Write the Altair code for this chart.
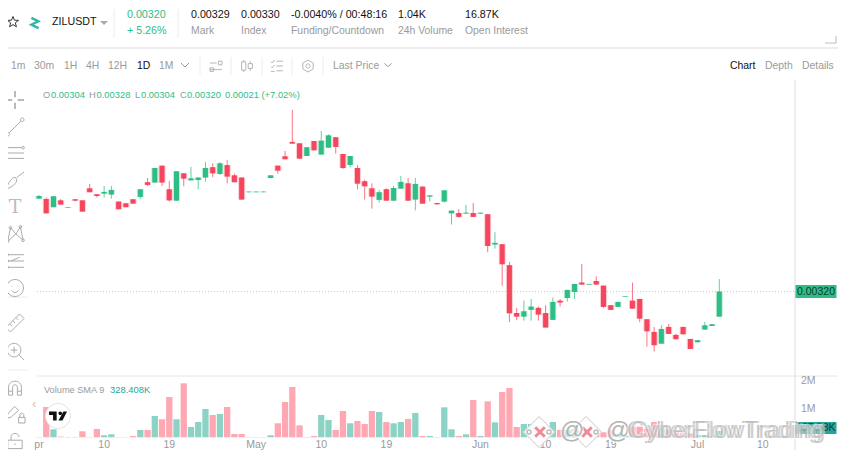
import altair as alt
import pandas as pd

# Prices in units of 0.00001, one entry per daily candle
opens = [379.5,379.3,374.0,378.4,373.6,379.1,378.4,386.1,382.3,382.7,382.1,377.6,376.5,379.1,380.6,390.0,389.8,400.6,385.5,378.2,
         395.7,391.2,391.4,393.0,399.6,395.3,401.0,394.4,393.0,383.6,383.6,383.6,392.7,400.6,406.6,415.8,414.9,406.8,416.4,407.7,
         412.1,418.8,408.1,401.0,399.1,390.6,386.1,378.7,385.5,378.2,385.9,389.3,378.9,387.2,380.8,376.7,377.6,370.1,370.3,369.9,
         370.3,369.9,369.5,350.1,350.3,336.9,306.3,304.0,308.3,309.6,306.3,301.9,314.2,315.9,319.8,325.8,324.5,326.8,323.8,311.3,
         310.2,316.8,314.2,315.3,302.3,294.2,286.7,297.4,292.3,297.4,289.7,287.6,295.7,298.0,304.0]
highs = [381.9,380.2,381.0,379.3,374.0,379.1,378.4,388.9,382.3,387.6,387.6,377.6,376.5,379.1,385.5,392.7,399.1,400.6,390.8,397.0,
         395.7,399.8,393.0,403.0,402.1,402.8,404.2,395.5,393.0,384.0,384.0,384.0,394.4,400.6,410.0,436.3,414.9,412.4,416.4,422.8,
         420.7,418.8,408.1,406.8,401.0,391.7,389.3,385.1,386.1,387.6,394.0,392.7,392.7,387.2,381.6,376.7,384.8,371.8,372.9,375.5,
         376.7,370.5,369.5,358.0,350.3,339.0,309.5,314.2,315.3,310.4,311.3,316.2,315.3,321.1,324.9,337.7,324.9,329.8,323.8,311.3,
         313.4,317.2,325.8,315.3,302.3,297.4,298.5,299.3,292.9,297.4,289.7,288.9,300.6,299.1,328.0]
lows = [379.5,370.1,374.0,375.7,373.6,377.8,371.2,383.6,380.2,380.2,379.5,372.7,374.0,376.3,379.3,387.6,389.8,387.6,377.6,378.2,
        387.4,391.2,385.5,390.4,393.2,394.6,389.3,390.0,378.9,383.6,383.6,383.6,392.7,395.5,404.7,414.7,405.1,406.8,410.4,407.7,
        412.1,408.3,398.5,399.6,385.5,378.9,373.1,377.0,378.2,378.2,385.9,378.2,372.0,376.3,377.8,375.7,377.0,362.9,367.3,369.9,
        367.8,369.9,345.2,347.5,323.8,300.4,301.7,301.4,301.4,301.4,297.0,301.9,310.4,313.6,315.3,324.5,324.5,324.5,309.5,308.3,
        310.2,316.8,309.1,300.4,284.8,281.6,286.7,292.9,289.5,292.7,283.3,287.6,295.7,298.0,304.0]
closes = [381.2,370.1,381.0,375.7,374.0,378.2,371.2,383.6,381.2,383.8,385.1,372.7,374.0,376.3,385.5,388.3,399.1,389.8,378.4,397.0,
          392.3,392.5,393.0,399.1,395.7,402.1,393.6,390.0,378.9,384.0,384.0,384.0,394.4,397.4,404.7,414.7,405.1,412.4,410.4,416.6,
          420.0,412.6,399.1,406.8,389.1,387.4,380.8,383.6,378.2,386.3,390.2,378.2,388.9,376.3,381.6,375.9,384.8,371.8,367.8,370.5,
          367.8,370.5,349.2,351.2,337.5,306.1,304.0,307.4,310.4,305.3,297.0,313.4,313.0,321.1,324.9,324.5,324.9,324.5,310.2,308.3,
          313.4,317.2,309.1,302.7,294.6,285.7,296.1,292.9,289.5,292.7,283.3,288.9,298.4,299.1,320.0]
# Volume in thousands
volumes = [12,1083,286,24,12,12,214,12,298,71,107,12,12,48,262,262,762,643,1440,643,
           1928,369,547,1012,797,833,1083,119,119,12,12,12,71,500,1261,1797,428,12,48,797,
           619,262,940,500,583,476,940,904,547,500,547,655,869,48,48,12,1071,286,48,107,
           1333,48,1285,535,1618,1761,369,476,476,440,380,547,262,262,180,262,48,262,180,262,
           107,60,380,380,300,547,320,262,180,180,140,80,80,48,230]

x_ticks = ["pr", "10", "19", "May", "10", "19", "Jun", "10", "19", "Jul", "10"]
x_tick_days = [0, 9, 18, 30, 39, 48, 61, 70, 79, 91, 100]
vol_ticks = ["2M", "1M"]
vol_tick_values = [2000, 1000]

GREEN, RED = "#2ebd85", "#f6465d"
VGREEN, VRED = "#8dd3c5", "#fda8b2"
GRAY, DARK = "#9a9a9a", "#111111"
FONT = "Liberation Sans"
TOP, SUB, SMALL = 10.7, 10.4, 9.4

df = pd.DataFrame({"i": list(range(len(opens))), "o": opens, "h": highs, "l": lows, "c": closes, "v": volumes})
xs = alt.Scale(domain=[0, 94], range=[31, 711.3], padding=0)
ys = alt.Scale(domain=[280, 440], range=[346.1, 96.1])
vs = alt.Scale(domain=[0, 2000], range=[429.3, 373.3])
X = alt.X("i:Q", scale=xs, axis=None)
Y = lambda f: alt.Y(f + ":Q", scale=ys, axis=None)
col = alt.condition("datum.c >= datum.o", alt.value(GREEN), alt.value(RED))
vcol = alt.condition("datum.c >= datum.o", alt.value(VGREEN), alt.value(VRED))

one = alt.Data(values=[{"a": 1}])


def txt(s, x, y, color=GRAY, size=SUB, align="left", weight="normal", font=FONT, **kw):
    return alt.Chart(one).mark_text(align=align, baseline="middle", fontSize=size, font=font, fontWeight=weight, **kw).encode(
        x=alt.value(x - 8), y=alt.value(y - 8), text=alt.value(s), color=alt.value(color))


def line(x1, y1, x2, y2, color="#ececec", w=1):
    return alt.Chart(one).mark_rule(strokeWidth=w).encode(
        x=alt.value(x1 - 8), x2=alt.value(x2 - 8), y=alt.value(y1 - 8), y2=alt.value(y2 - 8), color=alt.value(color))


def icon(path, x, y, half, color="#ababab", w=1.0, filled=False, opacity=1.0, fill=None):
    kw = dict(shape=path, size=(2 * half) ** 2, strokeWidth=w, opacity=opacity)
    if filled:
        m = alt.Chart(one).mark_point(filled=True, **kw).encode(x=alt.value(x - 8), y=alt.value(y - 8), color=alt.value(color))
    elif fill:
        m = alt.Chart(one).mark_point(filled=False, fill=fill, fillOpacity=1, **kw).encode(x=alt.value(x - 8), y=alt.value(y - 8), color=alt.value(color))
    else:
        m = alt.Chart(one).mark_point(filled=False, **kw).encode(x=alt.value(x - 8), y=alt.value(y - 8), color=alt.value(color))
    return m


def circ(x, y, r):
    return f"M{x-r},{y}a{r},{r} 0 1,0 {2*r},0a{r},{r} 0 1,0 {-2*r},0"


STAR = "M0,-1L0.27,-0.33L1,-0.3L0.43,0.15L0.62,0.87L0,0.47L-0.62,0.87L-0.43,0.15L-1,-0.3L-0.27,-0.33Z"
layers = []

# ---- frame lines
layers += [
    line(0, 48, 846, 48, "#eeeeee", 2),
    line(114, 9, 114, 38), line(178, 9, 178, 38),
    line(795, 80, 795, 450, "#dedede"),
    line(37, 376, 846, 376, "#e6e6e6"),
    line(3, 297, 28, 297), line(3, 370, 28, 370),
    line(200, 57, 200, 75), line(231, 57, 231, 75), line(262, 57, 262, 75), line(292, 57, 292, 75), line(323, 57, 323, 75),
    line(825, 43, 836, 43, "#bdbdbd"), line(836, 36, 836, 43, "#bdbdbd"),
]

# ---- price line
layers.append(alt.Chart(alt.Data(values=[{"p": 320}])).mark_rule(strokeDash=[1, 2], strokeWidth=1, color="#9fdcc6").encode(
    x=alt.value(29), x2=alt.value(787), y=Y("p")))

# ---- candles
base = alt.Chart(df)
layers += [
    base.mark_rule(strokeWidth=1, opacity=0.75).encode(x=X, y=Y("h"), y2="l:Q", color=col),
    base.mark_bar(orient="vertical", size=7, opacity=0.28).encode(x=X, y=Y("o"), y2="c:Q", color=col),
    base.mark_bar(orient="vertical", size=5).encode(x=X, y=Y("o"), y2="c:Q", color=col),
]

# ---- volume
layers.append(base.mark_bar(orient="vertical", size=6.3).encode(
    x=X, y=alt.Y("v:Q", scale=vs, axis=None), y2=alt.Y2(datum=0), color=vcol))

# ---- axes labels
layers.append(alt.Chart(pd.DataFrame({"i": x_tick_days, "t": x_ticks})).mark_text(baseline="middle", fontSize=10.5, font=FONT, color=GRAY).encode(
    x=X, y=alt.value(436.5), text="t:N"))
layers.append(alt.Chart(pd.DataFrame({"v": vol_tick_values, "t": vol_ticks})).mark_text(align="left", baseline="middle", fontSize=10.5, font=FONT, color=GRAY).encode(
    x=alt.value(793), y=alt.Y("v:Q", scale=vs, axis=None), text="t:N"))

# ---- price tags
layers += [
    line(816, 285, 816, 298, GREEN, 41),
    txt("0.00320", 816, 292, "#10382a", 10.5, "center"),
    line(816, 422, 816, 434, "#26a69a", 41),
    txt("157.58K", 816, 428, "#0f3f3a", 10.5, "center"),
]

# ---- header text
layers += [
    icon(STAR, 13, 22, 5.5, "#333333"),
    icon("M-0.6,-0.85L0.55,-0.3L-0.6,0.3L0.6,0.85", 35, 23, 6, "#2bb8a6", 2.4),
    txt("ZILUSDT", 52, 22, DARK, TOP),
    icon("M-1,-0.5L1,-0.5L0,0.5Z", 104, 23, 4, "#aaaaaa", 1, filled=True),
    txt("0.00320", 127, 14.5, GREEN, TOP), txt("+ 5.26%", 127, 31, GREEN, TOP),
    txt("0.00329", 191, 14.5, DARK, TOP), txt("Mark", 191, 31),
    txt("0.00330", 241, 14.5, DARK, TOP), txt("Index", 241, 31),
    txt("-0.0040% / 00:48:16", 291, 14.5, DARK, TOP), txt("Funding/Countdown", 291, 31),
    txt("1.04K", 398, 14.5, DARK, TOP), txt("24h Volume", 398, 31),
    txt("16.87K", 465, 14.5, DARK, TOP), txt("Open Interest", 465, 31),
]

# ---- toolbar
for s, x, c in [("1m", 11, GRAY), ("30m", 34, GRAY), ("1H", 64, GRAY), ("4H", 86, GRAY), ("12H", 108, GRAY), ("1D", 137, DARK), ("1M", 159, GRAY)]:
    layers.append(txt(s, x, 66, c))
layers += [
    icon("M-1,-0.5L0,0.5L1,-0.5", 185, 65, 4, "#9a9a9a"),
    txt("Last Price", 333, 66),
    icon("M-1,-0.5L0,0.5L1,-0.5", 388, 65, 3.5, "#9a9a9a"),
    txt("Chart", 730, 66, DARK), txt("Depth", 765, 66), txt("Details", 802, 66),
    icon("M-1,-0.5L0.1,-0.5M-1,0.6L1,0.6M0.4,-0.8H1V-0.2H0.4ZM-1,0.3H-0.4V0.9H-1Z", 216, 66, 6, "#b5b5b5"),
    icon("M-0.9,-0.7H-0.2V0.7H-0.9ZM0.2,-0.4H0.9V0.4H0.2ZM-0.55,-1V-0.7M-0.55,0.7V1M0.55,-0.8V-0.4M0.55,0.4V0.8", 247, 66, 6, "#b5b5b5"),
    icon("M-0.1,-0.8H1M-0.1,0H1M-0.1,0.8H1M-1,-0.7L-0.8,-0.5L-0.4,-1M-1,0.1L-0.8,0.3L-0.4,-0.2M-1,0.9L-0.4,0.9", 277, 66, 6, "#b5b5b5"),
    icon("M0,-1L0.87,-0.5V0.5L0,1L-0.87,0.5V-0.5Z" + circ(0, 0, 0.35), 308, 66, 6, "#b5b5b5"),
    # legend row
    txt("O", 43, 95, GRAY, SMALL), txt("0.00304", 51, 95, GREEN, SMALL),
    txt("H", 89, 95, GRAY, SMALL), txt("0.00328", 96.5, 95, GREEN, SMALL),
    txt("L", 135, 95, GRAY, SMALL), txt("0.00304", 141, 95, GREEN, SMALL),
    txt("C", 180, 95, GRAY, SMALL), txt("0.00320", 187, 95, GREEN, SMALL),
    txt("0.00021 (+7.02%)", 225, 95, GREEN, SMALL),
    txt("Volume SMA 9", 44, 390, GRAY, 9.2), txt("328.408K", 110, 390, "#26a69a", SMALL),
    txt("‹", 32, 404, "#c5c5c5", 13),
]

# ---- drawing tools
layers += [
    icon("M-1,0L-0.3,0M0.3,0L1,0M0,-1L0,-0.3M0,0.3L0,1", 15, 100, 9, "#777777"),
    icon("M-0.65,0.65L0.65,-0.65" + circ(-0.8, 0.8, 0.2) + circ(0.8, -0.8, 0.2), 15, 127, 9),
    icon("M-1,-0.6H0.8M-1,0H1M-0.7,0.6H1" + circ(0.9, -0.6, 0.15) + circ(-0.9, 0.6, 0.15), 15, 153, 9),
    icon("M-1,0.9C-0.7,0.2 -0.4,-0.4 0,-0.4C0.4,-0.2 0.2,0.5 -1,0.9M0.2,-0.4L1,-1", 15, 181, 9),
    txt("T", 15, 207, "#bcbcbc", 19, "center", font="DejaVu Serif"),
    icon("M-0.8,0.8L-0.5,-0.7L0.1,0L0.6,-0.8L0.9,0.7L0.1,0L-0.8,0.8" + circ(-0.5, -0.7, 0.15) + circ(0.6, -0.8, 0.15) + circ(0.9, 0.7, 0.15) + circ(-0.8, 0.8, 0.15), 15, 234, 9),
    icon("M-0.7,-0.7H1M-0.7,0H1M-0.7,0.7H1M-0.5,0L0.5,-0.4" + circ(-0.85, -0.7, 0.15) + circ(-0.85, 0, 0.15) + circ(-0.85, 0.7, 0.15), 15, 261, 9),
    icon(circ(0, 0, 1) + "M-0.4,0.3C-0.2,0.6 0.2,0.6 0.4,0.3M-0.35,-0.25V-0.2M0.35,-0.25V-0.2", 15, 288, 8.5),
    icon("M-1,0.5L0.5,-1L1,-0.5L-0.5,1ZM-0.6,0.1L-0.35,0.35M-0.25,-0.25L0,0M0.1,-0.6L0.35,-0.35", 15, 323, 9),
    icon(circ(-0.1, -0.1, 0.75) + "M0.45,0.45L1,1M-0.1,-0.45V0.25M-0.45,-0.1H0.25", 15, 351, 9),
    icon("M-0.8,0.9V-0.1C-0.8,-1.1 0.8,-1.1 0.8,-0.1V0.9H0.3V-0.1C0.3,-0.5 -0.3,-0.5 -0.3,-0.1V0.9ZM-0.8,0.4H-0.3M0.3,0.4H0.8", 15, 388, 8),
    icon("M-0.9,0.9L-0.6,0.2L0.2,-0.7L0.7,-0.2L-0.2,0.6Z", 13, 412, 8),
    icon("M0.2,0.3H1V1H0.2ZM0.35,0.3V0C0.35,-0.3 0.85,-0.3 0.85,0V0.3", 17, 415, 8),
    icon("M-0.9,-0.1H0.9V0.95H-0.9ZM-0.5,-0.1V-0.5C-0.5,-1.1 0.5,-1.1 0.5,-0.5M0,0.3V0.5", 15, 441, 8),
]

# ---- TradingView badge
layers += [
    icon(circ(0, 0, 1), 58, 416, 12.5, "#e4e4e4", 1, fill="white"),
    icon("M-1,-0.5H-0.15V0.5H-0.55V-0.1H-1ZM0.6,-0.5H1L0.5,0.5H0.05Z" + circ(0.25, -0.3, 0.2), 58, 416, 9, "#111111", 0, filled=True),
]

# ---- watermark
DIAMOND = "M0,-1L1,0L0,1L-1,0Z"
for cx in (539, 586):
    layers += [
        icon(DIAMOND, cx, 432, 15.5, "#dddddd", 1.2, fill="white", opacity=0.95),
        icon("M-0.6,-0.6L0.6,0.6M0.6,-0.6L-0.6,0.6", cx + 1, 432, 8, "#f08a98", 3),
        icon(circ(-1, 0, 0.2) + circ(1, 0, 0.2), cx, 432, 10, "#bcbcbc", 1.5),
    ]
for s, x in [("@", 560), ("@", 606)]:
    layers.append(txt(s, x, 431, "#ffffff", 24, stroke="#ffffff", strokeWidth=3, opacity=0.6))
    layers.append(txt(s, x, 431, "#a8a8a8", 24, opacity=0.85))
for x, op in [(627, 0.7), (630, 0.55)]:
    layers.append(txt("CyberFlowTrading", x, 431, "#ffffff", 24, stroke="#ffffff", strokeWidth=2.5, opacity=0.45))
    layers.append(txt("CyberFlowTrading", x, 431, "#a8a8a8", 24, opacity=op))

chart = alt.layer(*layers).resolve_scale(y="independent", x="shared").properties(
    width=830, height=442, padding=0, background="white",
    autosize=alt.AutoSizeParams(type="none", contains="padding"),
).configure_view(stroke=None)

chart.save("out.html", embed_options={"renderer": "svg", "actions": False})
